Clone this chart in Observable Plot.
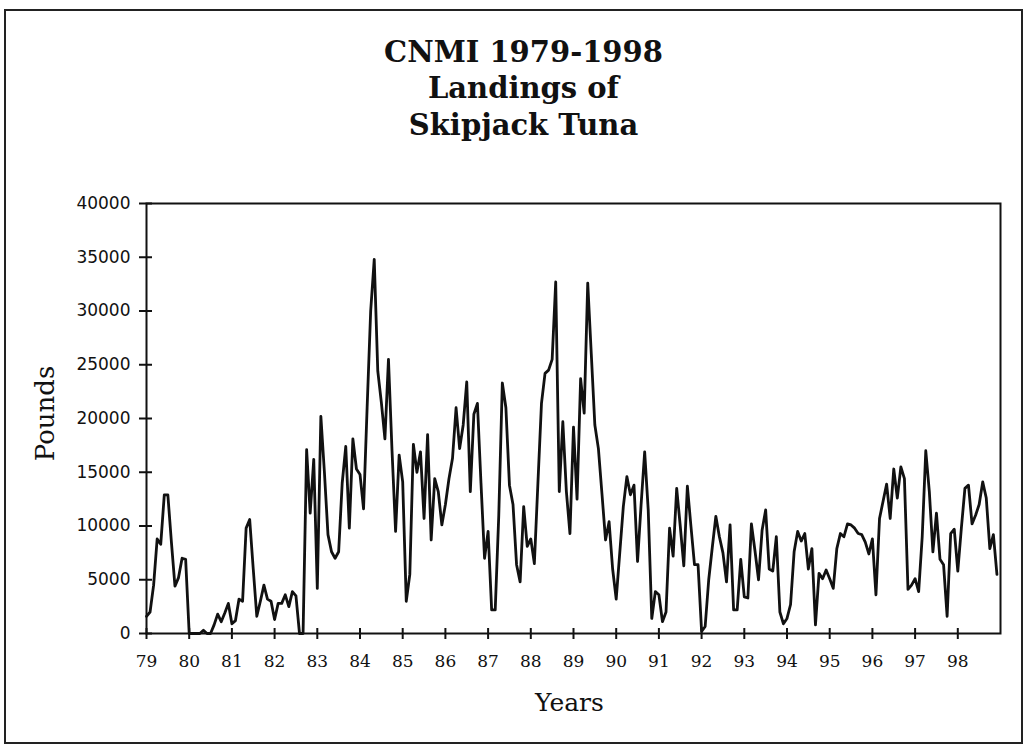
<!DOCTYPE html>
<html>
<head>
<meta charset="utf-8">
<script src="https://cdn.jsdelivr.net/npm/d3@7"></script>
<script src="https://cdn.jsdelivr.net/npm/@observablehq/plot@0.6"></script>
<style>
  html, body { margin: 0; padding: 0; background: #fff; }
  #wrap { position: relative; width: 1027px; height: 748px; overflow: hidden; background: #fff; }
  #border { position: absolute; left: 4px; top: 9px; width: 1015px; height: 731px; border: 2px solid #222; }
  #chart { position: absolute; left: 0; top: 0; }
</style>
</head>
<body>
<div id="wrap"><div id="border"></div><div id="chart"></div></div>
<script>
const titleLines = ["CNMI 1979-1998", "Landings of", "Skipjack Tuna"];
const xTitle = "Years";
const yTitle = "Pounds";
const years = [1979,1980,1981,1982,1983,1984,1985,1986,1987,1988,1989,1990,1991,1992,1993,1994,1995,1996,1997,1998];
const yearLabels = ["79","80","81","82","83","84","85","86","87","88","89","90","91","92","93","94","95","96","97","98"];
const poundTicks = [0,5000,10000,15000,20000,25000,30000,35000,40000];

// monthly landings (pounds), Jan..Dec
const y1979 = [1600, 2000, 4500, 8800, 8300, 12900, 12900, 8500, 4400, 5200, 7000, 6900];
const y1980 = [0, 0, 0, 0, 300, 0, 0, 800, 1800, 1100, 1900, 2800];
const y1981 = [900, 1200, 3200, 3000, 9800, 10600, 6000, 1600, 3000, 4500, 3200, 3000];
const y1982 = [1300, 2800, 2800, 3600, 2500, 3900, 3500, 0, 0, 17100, 11200, 16200];
const y1983 = [4200, 20200, 15000, 9200, 7600, 7000, 7600, 14000, 17400, 9800, 18100, 15300];
const y1984 = [14800, 11600, 21000, 30000, 34800, 24400, 21500, 18100, 25500, 17000, 9500, 16600];
const y1985 = [14100, 3000, 5500, 17600, 15000, 16900, 10700, 18500, 8700, 14400, 13200, 10100];
const y1986 = [12000, 14400, 16300, 21000, 17200, 19400, 23400, 13200, 20400, 21400, 14000, 7000];
const y1987 = [9500, 2200, 2200, 11000, 23300, 21000, 13800, 12000, 6400, 4800, 11800, 8100];
const y1988 = [8800, 6500, 14000, 21400, 24200, 24500, 25500, 32700, 13200, 19700, 13200, 9300];
const y1989 = [19200, 12500, 23700, 20500, 32600, 26000, 19400, 17200, 13000, 8700, 10400, 6000];
const y1990 = [3200, 7500, 11800, 14600, 12900, 13800, 6700, 12000, 16900, 11500, 1400, 3900];
const y1991 = [3600, 1100, 2000, 9800, 7200, 13500, 10000, 6300, 13700, 10000, 6400, 6400];
const y1992 = [200, 650, 5000, 8000, 10900, 9000, 7500, 4800, 10100, 2200, 2200, 6900];
const y1993 = [3400, 3300, 10200, 7700, 5000, 9600, 11500, 6000, 5800, 9000, 2000, 900];
const y1994 = [1400, 2700, 7600, 9500, 8600, 9300, 6000, 7900, 800, 5600, 5100, 5900];
const y1995 = [5100, 4200, 7900, 9300, 9000, 10200, 10100, 9800, 9300, 9200, 8500, 7400];
const y1996 = [8800, 3600, 10700, 12300, 13900, 10700, 15300, 12600, 15500, 14400, 4100, 4500];
const y1997 = [5100, 3900, 9000, 17000, 13200, 7600, 11200, 6900, 6400, 1600, 9300, 9700];
const y1998 = [5800, 9800, 13500, 13800, 10200, 11000, 12000, 14100, 12600, 7900, 9200, 5500];

const byYear = [y1979,y1980,y1981,y1982,y1983,y1984,y1985,y1986,y1987,y1988,y1989,y1990,y1991,y1992,y1993,y1994,y1995,y1996,y1997,y1998];
const rows = [];
years.forEach((yr, k) => byYear[k].forEach((v, m) => rows.push({t: yr + m / 12, v})));

const serif = "'DejaVu Serif', serif";
const sans = "'DejaVu Sans', sans-serif";

const chart = Plot.plot({
  width: 1027,
  height: 748,
  marginLeft: 146,
  marginRight: 27,
  marginTop: 203,
  marginBottom: 115,
  style: {background: "transparent", color: "#111"},
  x: {type: "linear", domain: [1979, 1999]},
  y: {domain: [0, 40000]},
  marks: [
    Plot.frame({stroke: "#111", strokeWidth: 2}),
    Plot.axisY({ticks: poundTicks, tickFormat: d => String(d), tickSize: 13, dx: 6, tickPadding: 9,
      fontSize: 17, fontFamily: sans, strokeWidth: 2, label: null}),
    Plot.axisX({ticks: years, tickFormat: d => yearLabels[years.indexOf(d)], tickSize: 11, dy: -5, tickPadding: 15,
      fontSize: 17, fontFamily: serif, strokeWidth: 2, label: null}),
    Plot.line(rows, {x: "t", y: "v", stroke: "#111", strokeWidth: 2.8, strokeLinejoin: "round"}),
    Plot.text([titleLines.join("\n")], {frameAnchor: "top", dx: -50, dy: -168, lineAnchor: "top",
      lineHeight: 1.27, fontSize: 29, fontWeight: "bold", fontFamily: serif, fill: "#111"}),
    Plot.text([yTitle], {frameAnchor: "left", textAnchor: "middle", dx: -101, dy: -5, rotate: -90,
      fontSize: 26, fontFamily: serif, fill: "#111"}),
    Plot.text([xTitle], {frameAnchor: "bottom", dx: -4, dy: 77, fontSize: 25, fontFamily: serif, fill: "#111"})
  ]
});
document.getElementById("chart").appendChild(chart);
</script>
</body>
</html>
